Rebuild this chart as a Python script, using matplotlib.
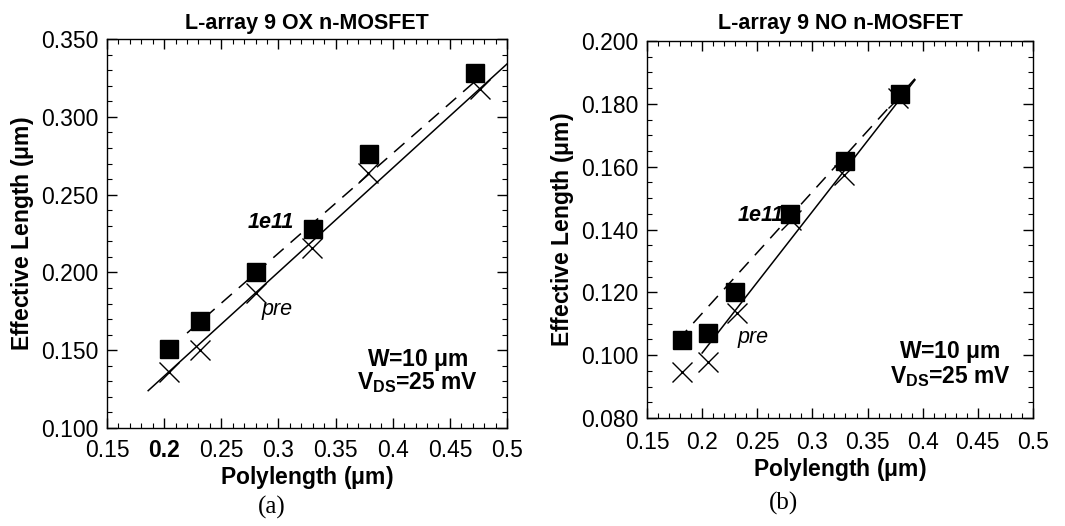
#!/usr/bin/env python

import numpy as np
import matplotlib
matplotlib.use("Agg")
from matplotlib import pyplot as pl
from matplotlib.ticker import MultipleLocator, FormatStrFormatter, FuncFormatter

pl.rcParams['font.family'] = ['Liberation Sans', 'DejaVu Sans']
pl.rcParams['mathtext.fontset'] = 'custom'
pl.rcParams['mathtext.rm'] = 'Liberation Sans'
pl.rcParams['mathtext.bf'] = 'Liberation Sans:bold'

# (a) OX n-MOSFET
ox_poly_sq = [0.204, 0.231, 0.280, 0.330, 0.379, 0.472]
ox_leff_1e11 = [0.151, 0.169, 0.200, 0.228, 0.276, 0.328]
ox_poly_x = [0.204, 0.231, 0.280, 0.329, 0.378, 0.476]
ox_leff_pre = [0.136, 0.150, 0.187, 0.216, 0.264, 0.318]
ox_fit_pre_x = [0.186, 0.500]
ox_fit_pre_y = [0.124, 0.334]
ox_fit_1e11_x = [0.220, 0.477]
ox_fit_1e11_y = [0.161, 0.326]

# (b) NO n-MOSFET
no_poly_sq = [0.182, 0.205, 0.230, 0.280, 0.330, 0.379]
no_leff_1e11 = [0.1048, 0.1071, 0.1201, 0.1450, 0.1618, 0.1831]
no_poly_x = [0.182, 0.205, 0.232, 0.281, 0.329, 0.378]
no_leff_pre = [0.0946, 0.0978, 0.1134, 0.1430, 0.1573, 0.1820]
no_fit_pre_x = [0.200, 0.393]
no_fit_pre_y = [0.1007, 0.1876]
no_fit_1e11_x = [0.178, 0.393]
no_fit_1e11_y = [0.1048, 0.1880]


def style_axes(ax, ymin, ymax, ymaj, ymin_step, yfmt, xpad, xlabelpad):
    ax.set_xlim(0.15, 0.5)
    ax.set_ylim(ymin, ymax)
    ax.xaxis.set_major_locator(MultipleLocator(0.05))
    ax.xaxis.set_minor_locator(MultipleLocator(0.01))
    ax.yaxis.set_major_locator(MultipleLocator(ymaj))
    ax.yaxis.set_minor_locator(MultipleLocator(ymin_step))
    ax.xaxis.set_major_formatter(FuncFormatter(lambda v, p: "{0:g}".format(round(v, 3))))
    ax.yaxis.set_major_formatter(FormatStrFormatter(yfmt))
    ax.tick_params(which='both', direction='in', top=True, right=True, labelsize=16.5)
    ax.tick_params(which='major', length=7, width=1)
    ax.tick_params(which='minor', length=3.5, width=0.8)
    ax.tick_params(axis='y', pad=6)
    ax.tick_params(axis='x', pad=xpad)
    for s in ax.spines.values():
        s.set_linewidth(1.0)
    ax.set_xlabel("Polylength ($\\mathbf{\\mu}$m)", fontsize=16.5, fontweight='bold',
                  labelpad=xlabelpad)
    ax.set_ylabel("Effective Length ($\\mathbf{\\mu}$m)", fontsize=16.5, fontweight='bold', labelpad=4)


def draw_panel(ax, xs_sq, ys_sq, xs_x, ys_x, fx_pre, fy_pre, fx_1e11, fy_1e11):
    ax.plot(fx_pre, fy_pre, '-', color='black', lw=1.1)
    ax.plot(fx_1e11, fy_1e11, '--', color='black', lw=1.1, dashes=(9, 6))
    ax.plot(xs_x, ys_x, 'x', color='black', ms=15, mew=1.0, linestyle='none')
    ax.plot(xs_sq, ys_sq, 's', color='black', ms=13, linestyle='none')


fig = pl.figure(figsize=(10.65, 5.26), dpi=100)

ax1 = fig.add_axes([0.1005, 0.1863, 0.3756, 0.7395])
draw_panel(ax1, ox_poly_sq, ox_leff_1e11, ox_poly_x, ox_leff_pre,
           ox_fit_pre_x, ox_fit_pre_y, ox_fit_1e11_x, ox_fit_1e11_y)
style_axes(ax1, 0.100, 0.350, 0.05, 0.01, '%.3f', 8, 1)
ax1.set_title("L-array 9 OX n-MOSFET", fontsize=15.5, fontweight='bold', pad=7)
for lbl in ax1.get_xticklabels():
    if lbl.get_text() == "0.2":
        lbl.set_fontweight('bold')
ax1.text(0.314, 0.232, "1e11", fontsize=15.5, fontweight='bold', style='italic',
         ha='right', va='center')
ax1.text(0.285, 0.176, "pre", fontsize=15.5, style='italic', ha='left', va='center')
ax1.text(0.422, 0.144, "W=10 $\\mathbf{\\mu}$m", fontsize=16.5, fontweight='bold',
         ha='center', va='center')
ax1.text(0.422, 0.129, "V$_{\\mathbf{DS}}$=25 mV", fontsize=16.5, fontweight='bold',
         ha='center', va='center')

ax2 = fig.add_axes([0.6075, 0.2053, 0.3624, 0.7167])
draw_panel(ax2, no_poly_sq, no_leff_1e11, no_poly_x, no_leff_pre,
           no_fit_pre_x, no_fit_pre_y, no_fit_1e11_x, no_fit_1e11_y)
style_axes(ax2, 0.080, 0.200, 0.02, 0.005, '%.3f', 9, 2)
ax2.set_title("L-array 9 NO n-MOSFET", fontsize=15.5, fontweight='bold', pad=9)
ax2.text(0.274, 0.1446, "1e11", fontsize=15.5, fontweight='bold', style='italic',
         ha='right', va='center')
ax2.text(0.2325, 0.1055, "pre", fontsize=15.5, style='italic', ha='left', va='center')
ax2.text(0.425, 0.101, "W=10 $\\mathbf{\\mu}$m", fontsize=16.5, fontweight='bold',
         ha='center', va='center')
ax2.text(0.425, 0.0931, "V$_{\\mathbf{DS}}$=25 mV", fontsize=16.5, fontweight='bold',
         ha='center', va='center')

fig.text(272 / 1065, 1 - 507 / 526, "(a)", fontsize=18, family='Liberation Serif',
         ha='center', va='center')
fig.text(783 / 1065, 1 - 503 / 526, "(b)", fontsize=18, family='Liberation Serif',
         ha='center', va='center')

fig.savefig("out.png", dpi=100)
